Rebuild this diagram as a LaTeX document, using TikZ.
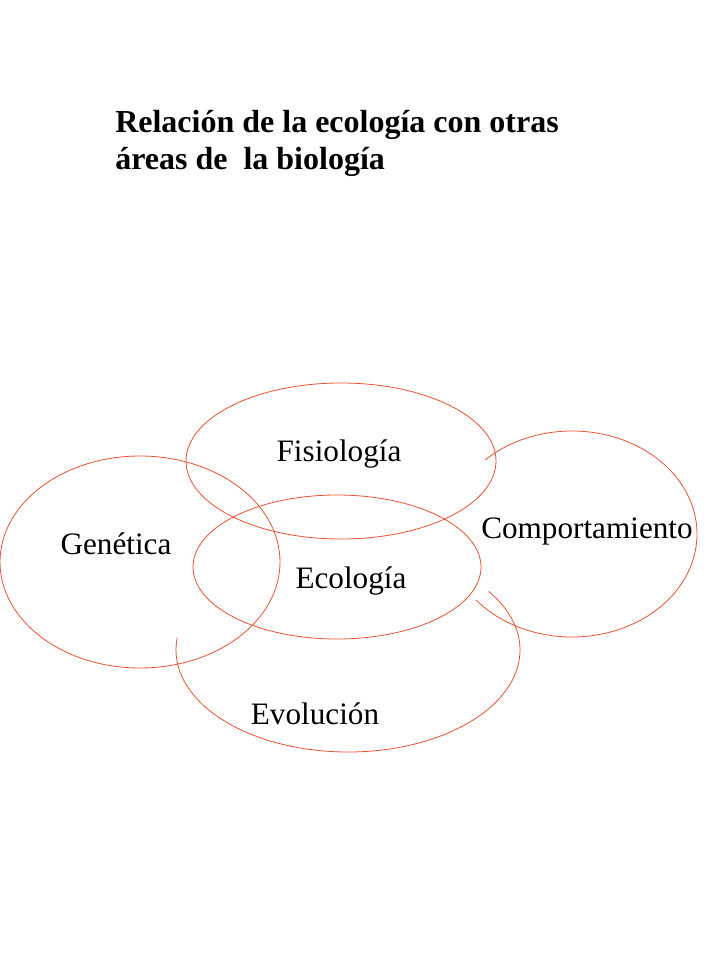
\documentclass[tikz,border=0pt]{standalone}
\usepackage{fontspec}
\setmainfont{Liberation Serif}
\usetikzlibrary{calc}
\definecolor{arcred}{RGB}{234,82,50}

\begin{document}
\begin{tikzpicture}[x=0.75pt,y=-0.75pt,
    area/.style={draw=arcred,line width=0.6pt},
    areaname/.style={font=\fontsize{23.4}{28}\selectfont,inner sep=0pt}]
                \useasboundingbox (0,0) rectangle (720,960);

                \node[anchor=north west,align=left,inner sep=0pt,
                      font=\fontsize{24}{28}\selectfont\bfseries] (title) at (115,110)
                      {Relación de la ecología con otras\\áreas de \ la biología};

                \coordinate (F) at (341,461);
                \coordinate (E) at (337,567);
                \coordinate (G) at (140,562);
                \coordinate (C) at (572,534);
                \coordinate (V) at (348,650);

                \draw[area](F) ellipse[x radius=155,y radius=78];
                \draw[area](E) ellipse[x radius=144,y radius=72];
                \draw[area](G) ellipse[x radius=140,y radius=106];
                \draw[area]($(C)+(-134:125 and 103)$) arc[start angle=-134,end angle=140,x radius=125,y radius=103];
                \draw[area]($(V)+(-35:172 and 102)$) arc[start angle=-35,end angle=187,x radius=172,y radius=102];

                \node[areaname] (fisio) at(339,454){Fisiología};
                \node[areaname] (gene) at(116,544){Genética};
                \node[areaname] (eco) at(351,581){Ecología};
                \node[areaname] (comp) at(587,531){Comportamiento};
                \node[areaname] (evol) at(315,714){Evolución};
            \end{tikzpicture}
\end{document}
